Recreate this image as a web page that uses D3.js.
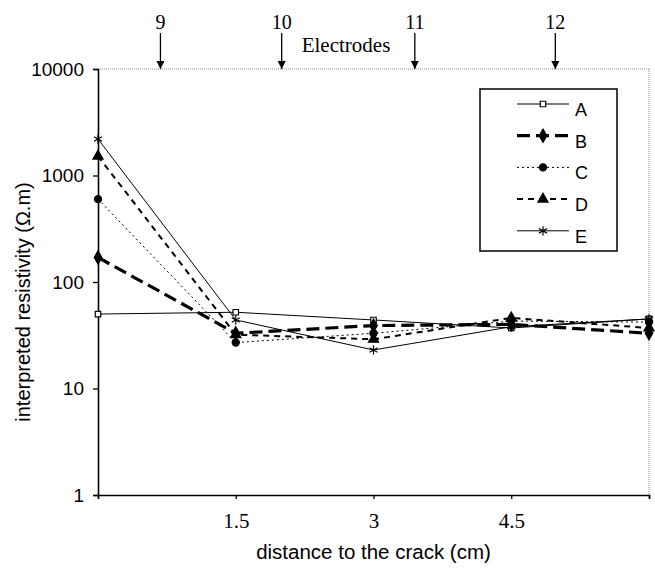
<!DOCTYPE html>
<html>
<head>
<meta charset="utf-8">
<script src="https://cdn.jsdelivr.net/npm/d3@7"></script>
<style>
  body { margin: 0; background: #fff; }
  svg { display: block; }
</style>
</head>
<body>
<svg id="chart" width="655" height="573"></svg>
<script>
// distance to the crack (cm)
const distances = [0, 1.5, 3, 4.5, 6];
const xTickLabels = [1.5, 3, 4.5];
const yTicks = [1, 10, 100, 1000, 10000];

// interpreted resistivity, one array per profile
const seriesA = [50, 52, 44, 37, 45];
const seriesB = [170, 33, 39, 40, 33];
const seriesC = [600, 27, 33, 43, 42];
const seriesD = [1520, 32, 29, 46, 37];
const seriesE = [2200, 44, 23, 38, 45];
const seriesNames = ['A', 'B', 'C', 'D', 'E'];

// electrode positions along the same axis
const electrodeNames = ['9', '10', '11', '12'];
const electrodePos = [0.68, 2.0, 3.45, 4.98];

const svg = d3.select('#chart');
const plotLeft = 98, plotRight = 649, plotTop = 69, plotBottom = 495;
const sans = 'Liberation Sans, Arial, sans-serif';
const serif = 'Liberation Serif, Times New Roman, serif';

const x = d3.scaleLinear().domain([0, 6]).range([plotLeft, plotRight]);
const y = d3.scaleLog().domain([1, 10000]).range([plotBottom, plotTop]);

// styles per series
const styles = {
    A: { width: 1, dash: null, symbol: d3.symbolSquare, size: 30, fill: '#fff' },
    B: { width: 3.2, dash: '13,6', symbol: d3.symbolDiamond, size: 50, fill: '#000' },
    C: { width: 1, dash: '2,3', symbol: d3.symbolCircle, size: 40, fill: '#000' },
    D: { width: 2, dash: '6,5', symbol: d3.symbolTriangle, size: 45, fill: '#000' },
    E: { width: 1, dash: null, symbol: d3.symbolAsterisk, size: 60, fill: 'none' }
};
const allSeries = [seriesA, seriesB, seriesC, seriesD, seriesE];

// frame: dotted top and right
svg.append('line').attr('x1', plotLeft).attr('x2', plotRight).attr('y1', plotTop).attr('y2', plotTop)
    .attr('stroke', '#888').attr('stroke-width', 1).attr('stroke-dasharray', '1,1');
svg.append('line').attr('x1', plotRight).attr('x2', plotRight).attr('y1', plotTop).attr('y2', plotBottom)
    .attr('stroke', '#888').attr('stroke-width', 1).attr('stroke-dasharray', '1,1');

// y axis
const yAxis = d3.axisLeft(y).tickValues(yTicks).tickFormat(d3.format('d')).tickSize(5).tickPadding(9);
const gy = svg.append('g').attr('transform', `translate(${plotLeft},0)`).call(yAxis);
gy.select('.domain').attr('stroke-width', 1.6);
gy.selectAll('.tick line').attr('stroke-width', 1.3);
gy.selectAll('.tick text').attr('font-family', sans).attr('font-size', 19).attr('fill', '#000');

// x axis
const xAxis = d3.axisBottom(x).tickValues(distances)
    .tickFormat(d => xTickLabels.includes(d) ? d : '').tickSize(4).tickPadding(14);
const gx = svg.append('g').attr('transform', `translate(0,${plotBottom})`).call(xAxis);
gx.select('.domain').attr('stroke-width', 1.6);
gx.selectAll('.tick line').attr('stroke-width', 1.3);
gx.selectAll('.tick text').attr('font-family', serif).attr('font-size', 21).attr('fill', '#000');

// axis titles
svg.append('text').attr('x', (plotLeft + plotRight) / 2).attr('y', 559).attr('text-anchor', 'middle')
    .attr('font-family', sans).attr('font-size', 20.5)
    .text('distance to the crack (cm)');
svg.append('text').attr('transform', 'translate(30,302) rotate(-90)').attr('text-anchor', 'middle')
    .attr('font-family', sans).attr('font-size', 20)
    .text('interpreted resistivity (\u03A9.m)');

// electrodes
svg.append('defs').append('marker').attr('id', 'arrow').attr('viewBox', '0 0 10 10')
    .attr('refX', 10).attr('refY', 5).attr('markerWidth', 8).attr('markerHeight', 8)
    .attr('markerUnits', 'userSpaceOnUse').attr('orient', 'auto')
    .append('path').attr('d', 'M0,0L10,5L0,10z').attr('fill', '#000');
const eg = svg.append('g');
eg.selectAll('line').data(electrodePos).join('line')
    .attr('x1', d => x(d)).attr('x2', d => x(d)).attr('y1', 33).attr('y2', plotTop)
    .attr('stroke', '#000').attr('stroke-width', 1.3).attr('marker-end', 'url(#arrow)');
eg.selectAll('text').data(electrodePos).join('text')
    .attr('x', d => x(d)).attr('y', 29).attr('text-anchor', 'middle')
    .attr('font-family', serif).attr('font-size', 20)
    .text((d, i) => electrodeNames[i]);
svg.append('text').attr('x', 346).attr('y', 52).attr('text-anchor', 'middle')
    .attr('font-family', serif).attr('font-size', 21)
    .text('Electrodes');

// lines and markers
const line = d3.line().x((d, i) => x(distances[i])).y(d => y(d));
allSeries.forEach((vals, k) => {
    const st = styles[seriesNames[k]];
    svg.append('path').datum(vals).attr('d', line).attr('fill', 'none')
        .attr('stroke', '#000').attr('stroke-width', st.width)
        .attr('stroke-dasharray', st.dash);
    svg.append('g').selectAll('path').data(vals).join('path')
        .attr('transform', (d, i) => `translate(${x(distances[i])},${y(d)})`)
        .attr('d', d3.symbol(st.symbol, st.size))
        .attr('fill', st.fill).attr('stroke', '#000').attr('stroke-width', 1.2);
});

// legend
const lg = svg.append('g');
lg.append('rect').attr('x', 480).attr('y', 89).attr('width', 137).attr('height', 162)
    .attr('fill', '#fff').attr('stroke', '#000').attr('stroke-width', 1.5);
seriesNames.forEach((name, k) => {
    const st = styles[name];
    const ly = 104 + k * 31.7;
    lg.append('line').attr('x1', 517).attr('x2', 569).attr('y1', ly).attr('y2', ly)
        .attr('stroke', '#000').attr('stroke-width', st.width).attr('stroke-dasharray', st.dash);
    lg.append('path').attr('transform', `translate(543,${ly})`)
        .attr('d', d3.symbol(st.symbol, st.size))
        .attr('fill', st.fill).attr('stroke', '#000').attr('stroke-width', 1.2);
    lg.append('text').attr('x', 575).attr('y', ly + 12)
        .attr('font-family', sans).attr('font-size', 18)
        .text(name);
});
</script>
</body>
</html>
